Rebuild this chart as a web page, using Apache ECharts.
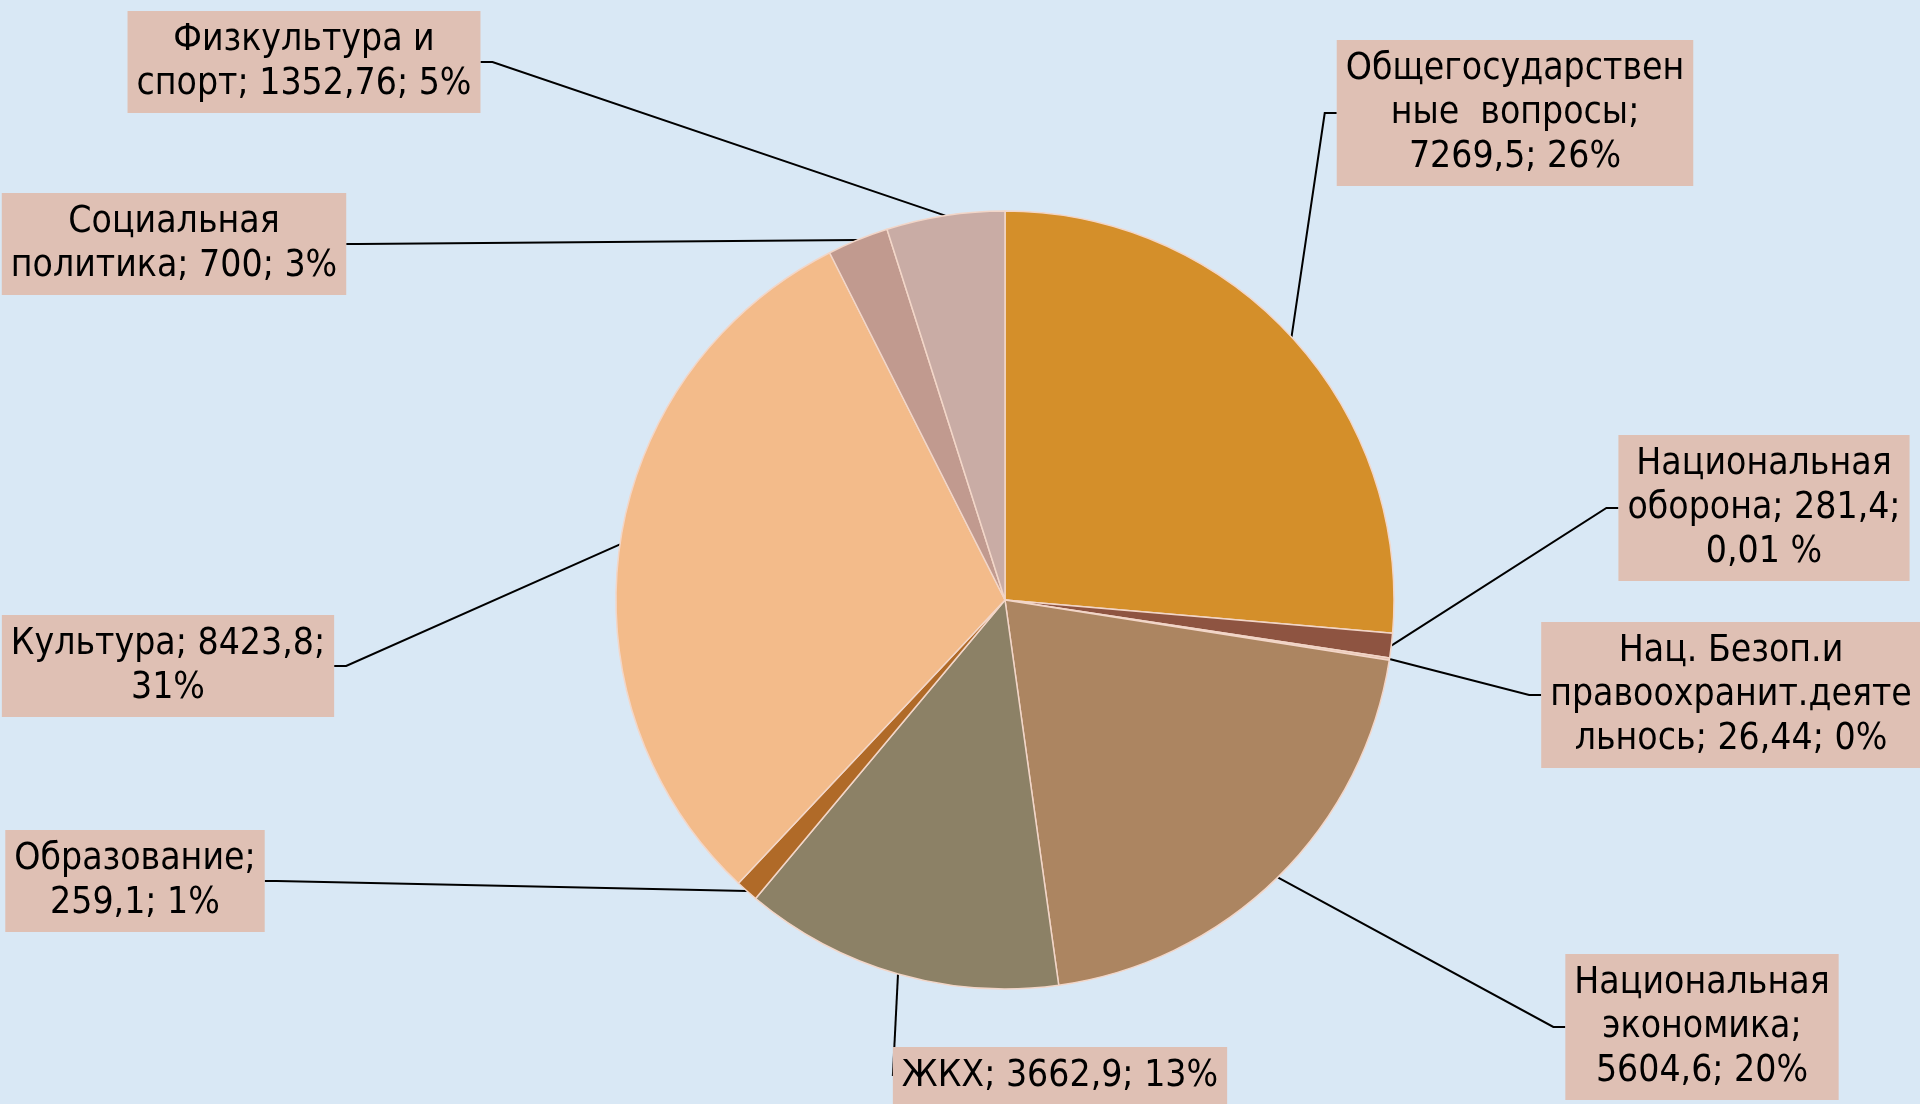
<!DOCTYPE html>
<html>
<head>
<meta charset="utf-8">
<script src="https://cdn.jsdelivr.net/npm/echarts@6/dist/echarts.min.js"></script>
<style>
  html, body { margin: 0; padding: 0; background: #d9e8f5; }
  #chart { width: 1920px; height: 1104px; }
</style>
</head>
<body>
<div id="chart"></div>
<script>
const categories = [
  'Общегосударственные вопросы',
  'Национальная оборона',
  'Нац. Безоп.и правоохранит.деятельнось',
  'Национальная экономика',
  'ЖКХ',
  'Образование',
  'Культура',
  'Социальная политика',
  'Физкультура и спорт',
]
const values = [7269.5, 281.4, 26.44, 5604.6, 3662.9, 259.1, 8423.8, 700, 1352.76]
const labelTexts = [
  'Общегосударствен\nные  вопросы;\n7269,5; 26%',
  'Национальная\nоборона; 281,4;\n0,01 %',
  'Нац. Безоп.и\nправоохранит.деяте\nльнось; 26,44; 0%',
  'Национальная\nэкономика;\n5604,6; 20%',
  'ЖКХ; 3662,9; 13%',
  'Образование;\n259,1; 1%',
  'Культура; 8423,8;\n31%',
  'Социальная\nполитика; 700; 3%',
  'Физкультура и\nспорт; 1352,76; 5%',
]
const colors = ['#d48f2a', '#8e5441', '#e3b9a6', '#ac8561', '#8c8166', '#b06a28', '#f3bb8a', '#c19a8f', '#c9aca5']

// label box centres (px)
const labelPos = [
  [1515, 113], [1764, 508], [1731, 695], [1702, 1027], [1060, 1076],
  [135, 881], [168, 666], [174, 244], [304, 62],
]

const chart = echarts.init(document.getElementById('chart'))
chart.setOption({
  backgroundColor: 'transparent',
  animation: false,
  series: [
    {
      type: 'pie',
      center: [1005, 600],
      radius: [0, 389],
      startAngle: 90,
      clockwise: true,
      avoidLabelOverlap: false,
      data: categories.map((name, i) => ({
        name,
        value: values[i],
        itemStyle: { color: colors[i] },
      })),
      itemStyle: { borderColor: '#f2d6c8', borderWidth: 1.5 },
      label: {
        show: true,
        formatter: (p) => labelTexts[p.dataIndex],
        fontFamily: '"Liberation Sans Narrow", "DejaVu Sans Condensed", sans-serif',
        fontSize: 37,
        lineHeight: 44,
        color: '#000',
        backgroundColor: '#dfc0b4',
        padding: [8, 9, 6, 9],
        align: 'center',
      },
      labelLine: {
        show: true,
        length: 20,
        length2: 12,
        lineStyle: { color: '#000', width: 2 },
      },
      labelLayout: (params) => {
        const pos = labelPos[params.dataIndex]
        return { x: pos[0], y: pos[1], align: 'center', verticalAlign: 'middle' }
      },
      emphasis: { disabled: true },
    },
  ],
})
</script>
</body>
</html>
